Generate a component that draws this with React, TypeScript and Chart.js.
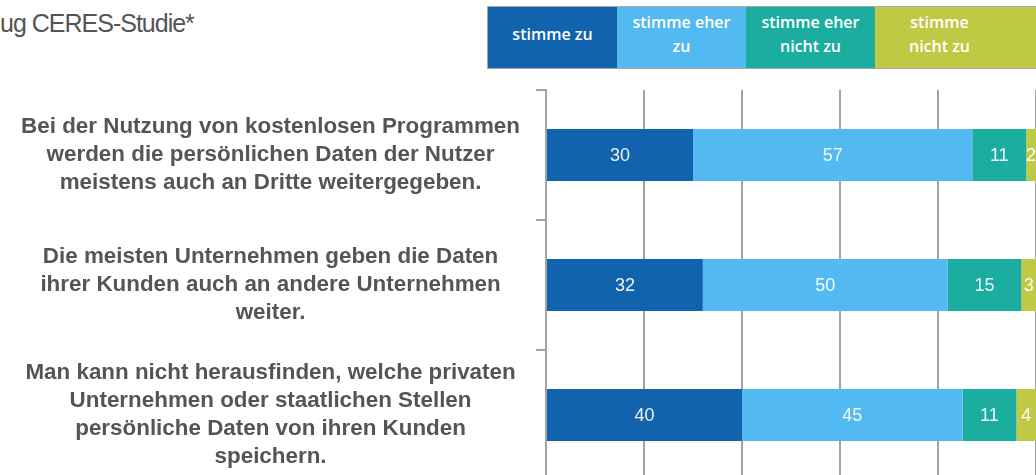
import React, { useEffect, useRef } from "react";
import { Chart, registerables } from "chart.js";

Chart.register(...registerables);

const titleText = "ug CERES-Studie*";

const categories: string[][] = [
  ["Bei der Nutzung von kostenlosen Programmen", "werden die persönlichen Daten der Nutzer", "meistens auch an Dritte weitergegeben."],
  ["Die meisten Unternehmen geben die Daten", "ihrer Kunden auch an andere Unternehmen", "weiter."],
  ["Man kann nicht herausfinden, welche privaten", "Unternehmen oder staatlichen Stellen", "persönliche Daten von ihren Kunden", "speichern."],
];

const seriesNames: string[][] = [["stimme zu"], ["stimme eher", "zu"], ["stimme eher", "nicht zu"], ["stimme", "nicht zu"]];
const seriesColors = ["#1163ad", "#53b9f1", "#1cada1", "#bfc944"];

const stimmeZu = [30, 32, 40];
const stimmeEherZu = [57, 50, 45];
const stimmeEherNichtZu = [11, 15, 11];
const stimmeNichtZu = [2, 3, 4];

const xTicks = [0, 20, 40, 60, 80, 100];

const FONT = "'Liberation Sans', Arial, Helvetica, sans-serif";

const valueLabels = {
  id: "valueLabels",
  afterDatasetsDraw(chart: any) {
    const ctx = chart.ctx;
    ctx.save();
    ctx.font = `18px ${FONT}`;
    ctx.fillStyle = "rgba(255,255,255,0.92)";
    ctx.textAlign = "center";
    ctx.textBaseline = "middle";
    chart.data.datasets.forEach((ds: any, i: number) => {
      const meta = chart.getDatasetMeta(i);
      meta.data.forEach((bar: any, j: number) => {
        const p = bar.getProps(["x", "y", "base"], true);
        const cx = (p.x + p.base) / 2;
        ctx.fillText(String(ds.data[j]), cx, p.y + 1);
      });
    });
    ctx.restore();
  },
};

export default function App() {
  const ref = useRef<HTMLCanvasElement | null>(null);

  useEffect(() => {
    if (!ref.current) return;
    const data = [stimmeZu, stimmeEherZu, stimmeEherNichtZu, stimmeNichtZu];
    const chart = new Chart(ref.current, {
      type: "bar",
      data: {
        labels: categories,
        datasets: data.map((d, i) => ({
          label: seriesNames[i].join(" "),
          data: d,
          backgroundColor: seriesColors[i],
          borderWidth: 0,
          barPercentage: 0.4,
          categoryPercentage: 1,
        })),
      },
      options: {
        indexAxis: "y",
        animation: false,
        responsive: false,
        devicePixelRatio: 1,
        layout: { padding: { left: 0, top: 90, right: 64, bottom: 20 } },
        plugins: { legend: { display: false }, tooltip: { enabled: false }, title: { display: false } },
        scales: {
          x: {
            type: "linear",
            stacked: true,
            min: 0,
            max: 100,
            afterBuildTicks: (scale: any) => {
              scale.ticks = xTicks.map((v) => ({ value: v }));
            },
            ticks: { display: false },
            grid: { color: "#a3a3a3", lineWidth: 2, drawTicks: false, tickLength: 0 },
            border: { display: false },
            afterFit: (scale: any) => {
              scale.height = 0;
              scale.paddingLeft = 0;
              scale.paddingRight = 0;
            },
          },
          y: {
            stacked: true,
            grid: { drawOnChartArea: false, drawTicks: true, tickLength: 10, color: "#a3a3a3", lineWidth: 2, offset: true },
            border: { display: true, color: "#a3a3a3", width: 2 },
            ticks: {
              crossAlign: "center",
              padding: 16,
              color: "#555555",
              font: { family: FONT, size: 22.4, weight: "bold", lineHeight: 28 / 22.4 },
            },
            afterFit: (scale: any) => {
              scale.width = 546;
              scale.paddingTop = 0;
              scale.paddingBottom = 0;
            },
          },
        },
      },
      plugins: [valueLabels],
    } as any);
    return () => chart.destroy();
  }, []);

  const cellW = 129;
  const legendLeft = 488;

  return (
    <div style={{ position: "fixed", left: 0, top: 0, width: 1036, height: 475, overflow: "hidden", background: "#fff" }}>
      <div
        style={{
          position: "absolute",
          left: 0,
          top: 11,
          fontFamily: FONT,
          fontSize: 25,
          lineHeight: "25px",
          letterSpacing: "-1px",
          color: "#555",
          whiteSpace: "nowrap",
        }}
      >
        {titleText}
      </div>
      <div
        style={{
          position: "absolute",
          left: legendLeft - 1,
          top: 6,
          width: 1100 - legendLeft,
          height: 61,
          border: "1px solid #a8a8a8",
          display: "flex",
        }}
      >
        {seriesNames.map((lines, i) => (
          <div
            key={i}
            style={{
              width: i === 3 ? 1100 - legendLeft - 3 * cellW : cellW,
              height: 61,
              background: seriesColors[i],
              display: "flex",
              alignItems: "center",
              boxSizing: "border-box",
              paddingBottom: 8,
            }}
          >
            <div
              style={{
                width: cellW,
                textAlign: "center",
                color: "#fff",
                fontFamily: "'Open Sans', 'DejaVu Sans', sans-serif",
                fontWeight: 600,
                fontSize: 16,
                lineHeight: "24px",
              }}
            >
              {lines.map((l, k) => (
                <div key={k}>{l}</div>
              ))}
            </div>
          </div>
        ))}
      </div>
      <canvas ref={ref} width={1100} height={500} style={{ position: "absolute", left: 0, top: 0 }} />
    </div>
  );
}
